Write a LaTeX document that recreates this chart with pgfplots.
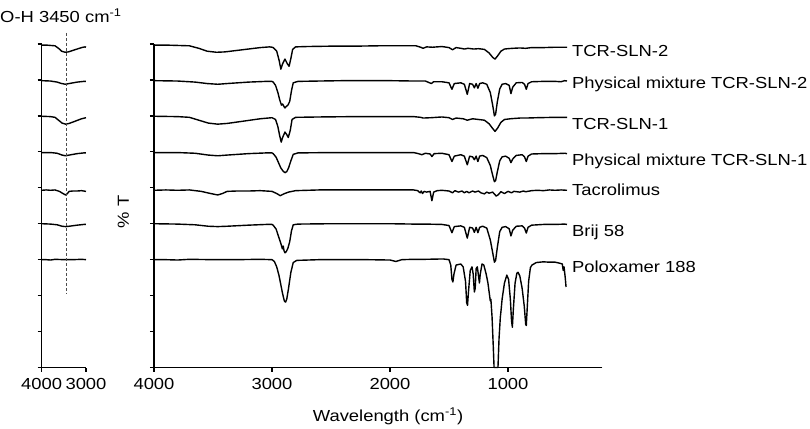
\documentclass[border=0pt]{standalone}
\usepackage{pgfplots}
\pgfplotsset{compat=1.18}
\usepackage{fontspec}
\setmainfont[FakeStretch=1.15]{Liberation Sans}
\newcommand\lab{\fontsize{16}{19}\selectfont}

% spectra: wavenumber (cm^-1) vs offset %T
\pgfplotstableread{
x y
4000 8.97
3900 8.97
3800 8.96
3700 8.95
3620 8.88
3550 8.80
3470 8.77
3400 8.78
3300 8.82
3200 8.86
3100 8.90
3020 8.92
3000 8.91
2990 8.90
2960 8.80
2940 8.55
2925 8.30
2910 8.45
2890 8.58
2870 8.45
2855 8.38
2840 8.60
2825 8.85
2800 8.92
2700 8.93
2500 8.94
2300 8.94
2100 8.95
1900 8.95
1780 8.95
1740 8.91
1720 8.88
1690 8.92
1640 8.91
1560 8.93
1500 8.90
1470 8.84
1440 8.90
1400 8.88
1370 8.86
1340 8.88
1290 8.86
1250 8.87
1200 8.85
1160 8.75
1130 8.63
1110 8.58
1090 8.66
1060 8.80
1030 8.86
1000 8.87
960 8.88
900 8.89
850 8.88
800 8.90
700 8.90
600 8.91
500 8.91
}\slntwo

\pgfplotstableread{
x y
4000 7.98
3800 7.97
3650 7.94
3550 7.90
3460 7.88
3380 7.90
3200 7.94
3050 7.96
3000 7.96
2990 7.94
2970 7.85
2950 7.65
2935 7.45
2920 7.30
2910 7.33
2900 7.27
2890 7.22
2880 7.26
2865 7.30
2850 7.40
2835 7.70
2820 7.92
2780 7.96
2600 7.97
2400 7.98
2200 7.98
2000 7.98
1800 7.97
1700 7.97
1650 7.90
1630 7.95
1560 7.95
1500 7.92
1475 7.74
1455 7.90
1400 7.92
1370 7.88
1345 7.60
1325 7.90
1300 7.88
1285 7.78
1270 7.90
1255 7.77
1240 7.90
1215 7.92
1180 7.88
1150 7.65
1130 7.30
1115 7.00
1105 7.05
1090 7.40
1070 7.75
1050 7.88
1020 7.90
990 7.85
975 7.62
960 7.80
930 7.92
880 7.93
860 7.88
845 7.74
830 7.90
800 7.95
700 7.96
600 7.96
550 7.95
520 7.98
500 7.97
}\pmtwo

\pgfplotstableread{
x y
4000 6.99
3800 6.98
3700 6.96
3620 6.88
3540 6.80
3460 6.77
3380 6.79
3250 6.85
3100 6.92
3000 6.95
2970 6.90
2950 6.70
2935 6.45
2922 6.27
2910 6.40
2890 6.55
2875 6.48
2862 6.40
2845 6.60
2830 6.90
2800 6.96
2600 6.97
2300 6.98
2000 6.98
1800 6.98
1740 6.96
1720 6.94
1650 6.95
1560 6.97
1500 6.95
1470 6.90
1440 6.94
1380 6.92
1345 6.88
1300 6.92
1250 6.90
1200 6.88
1160 6.78
1130 6.65
1110 6.57
1090 6.65
1060 6.82
1030 6.90
980 6.92
900 6.94
850 6.94
750 6.95
600 6.96
500 6.96
}\slnone

\pgfplotstableread{
x y
4000 5.98
3800 5.98
3650 5.96
3540 5.91
3460 5.89
3380 5.91
3200 5.95
3050 5.97
3000 5.97
2990 5.95
2965 5.85
2945 5.70
2925 5.55
2905 5.46
2890 5.42
2875 5.45
2860 5.55
2840 5.75
2820 5.93
2780 5.97
2500 5.98
2200 5.98
2000 5.98
1800 5.98
1760 5.95
1730 5.92
1700 5.96
1660 5.94
1645 5.87
1625 5.95
1560 5.96
1500 5.92
1475 5.73
1455 5.88
1400 5.92
1370 5.88
1345 5.64
1325 5.88
1300 5.86
1285 5.78
1270 5.88
1255 5.73
1240 5.88
1215 5.90
1180 5.84
1150 5.62
1130 5.35
1115 5.17
1105 5.20
1090 5.45
1070 5.75
1050 5.86
1020 5.88
990 5.82
975 5.70
960 5.80
930 5.90
880 5.92
860 5.86
845 5.73
830 5.88
800 5.94
700 5.95
600 5.95
520 5.96
500 5.95
}\pmone

\pgfplotstableread{
x y
4000 4.93
3900 4.94
3800 4.93
3700 4.94
3600 4.90
3520 4.84
3460 4.80
3420 4.84
3380 4.90
3300 4.91
3200 4.91
3100 4.92
3000 4.90
2960 4.84
2930 4.78
2900 4.83
2860 4.88
2800 4.92
2600 4.94
2300 4.94
2000 4.94
1800 4.94
1765 4.92
1745 4.86
1735 4.91
1725 4.84
1710 4.90
1690 4.88
1660 4.90
1645 4.64
1630 4.88
1600 4.92
1560 4.93
1500 4.91
1470 4.86
1450 4.92
1420 4.88
1390 4.91
1370 4.86
1350 4.90
1330 4.86
1300 4.91
1280 4.88
1250 4.91
1230 4.86
1200 4.83
1180 4.88
1160 4.85
1130 4.88
1100 4.77
1085 4.80
1060 4.89
1030 4.84
1000 4.90
970 4.86
950 4.90
900 4.88
870 4.91
850 4.89
800 4.92
750 4.93
700 4.92
650 4.94
600 4.93
550 4.94
500 4.93
}\tacro

\pgfplotstableread{
x y
4000 4.00
3800 3.99
3650 3.97
3540 3.93
3460 3.92
3380 3.93
3200 3.96
3050 3.98
3000 3.98
2990 3.96
2965 3.85
2945 3.65
2925 3.45
2912 3.30
2905 3.38
2898 3.25
2890 3.19
2878 3.23
2865 3.32
2850 3.50
2835 3.80
2820 3.97
2780 3.99
2500 4.00
2200 4.00
2000 4.00
1800 3.99
1700 3.99
1560 3.98
1500 3.95
1475 3.75
1455 3.92
1400 3.94
1370 3.90
1345 3.60
1325 3.90
1300 3.88
1285 3.76
1270 3.90
1255 3.75
1240 3.90
1215 3.93
1180 3.88
1150 3.55
1130 3.20
1115 2.93
1105 2.98
1090 3.35
1070 3.78
1050 3.90
1020 3.92
990 3.86
975 3.66
960 3.82
930 3.93
880 3.94
860 3.88
845 3.74
830 3.90
800 3.96
700 3.98
600 3.98
520 3.99
500 3.98
}\brij

\pgfplotstableread{
x y
4000 3.00
3900 3.00
3800 2.99
3700 3.01
3500 3.00
3300 3.00
3100 3.01
3000 3.00
2980 2.95
2960 2.80
2940 2.55
2925 2.30
2910 2.05
2895 1.85
2885 1.82
2875 1.90
2860 2.20
2840 2.65
2820 2.92
2790 2.98
2600 3.00
2400 3.00
2200 3.00
2000 2.99
1950 2.95
1900 3.00
1800 3.01
1700 3.01
1550 3.02
1500 3.00
1485 2.85
1475 2.45
1467 2.38
1458 2.60
1440 2.85
1400 2.88
1380 2.80
1360 2.40
1350 1.80
1343 1.73
1335 2.10
1320 2.70
1305 2.80
1295 2.60
1285 2.10
1278 2.20
1270 2.75
1260 2.80
1250 2.55
1242 2.35
1235 2.60
1220 2.88
1205 2.85
1185 2.60
1170 2.35
1160 2.10
1150 1.85
1145 1.90
1135 1.40
1125 0.60
1118 0.00
1100 0.00
1085 0.00
1076 0.80
1065 1.40
1060 1.55
1050 1.90
1030 2.35
1010 2.57
995 2.45
980 1.90
970 1.30
963 1.12
955 1.60
940 2.35
925 2.62
915 2.65
900 2.55
880 2.20
862 1.70
850 1.20
845 1.17
838 1.60
825 2.40
810 2.78
797 2.85
760 2.92
700 2.94
650 2.93
600 2.93
560 2.90
540 2.88
532 2.70
525 2.80
515 2.50
508 2.24
}\polox

\pgfplotsset{
  ftir/.style={
    scale only axis,
    x dir=reverse,
    axis x line*=bottom,
    axis y line*=left,
    ymin=0, ymax=9,
    ytick={0,...,9},
    yticklabels={},
    tick align=outside,
    major tick length=4pt,
    axis line style={line width=1.3pt},
    every tick/.style={black, line width=1.3pt},
    tick label style={font=\lab},
    xticklabel style={yshift=-3pt},
    /pgf/number format/assume math mode=true,
    /pgf/number format/set thousands separator={},
    clip=false,
  },
  spec/.style={black, line width=1.4pt, no markers, line join=round},
}

\begin{document}
\begin{tikzpicture}[x=1pt,y=1pt]
\path[use as bounding box] (0,0) rectangle (810,428);

% inset: O-H region
\begin{axis}[ftir,
  at={(41.7pt,60.5pt)}, anchor=south west,
  width=44.3pt, height=323.5pt,
  xmin=3000, xmax=4000,
  xtick={3000,4000},
  restrict x to domain=3000:4000,
]
\addplot[spec] table {\slntwo};
\addplot[spec] table {\pmtwo};
\addplot[spec] table {\slnone};
\addplot[spec] table {\pmone};
\addplot[spec] table {\tacro};
\addplot[spec] table {\brij};
\addplot[spec] table {\polox};
\addplot[black!70, line width=0.8pt, dash pattern=on 3pt off 2pt] coordinates {(3450,9.31) (3450,2.07)};
\end{axis}

% full spectra
\begin{axis}[ftir,
  at={(154pt,60.5pt)}, anchor=south west,
  width=448.4pt, height=323.5pt,
  xmin=200, xmax=4000,
  xtick={1000,2000,3000,4000},
]
\addplot[spec] table {\slntwo};
\addplot[spec] table {\pmtwo};
\addplot[spec] table {\slnone};
\addplot[spec] table {\pmone};
\addplot[spec] table {\tacro};
\addplot[spec] table {\brij};
\addplot[spec] table {\polox};
\node[anchor=base west, inner sep=0, font=\lab] at (axis cs:458,8.65) {TCR-SLN-2};
\node[anchor=base west, inner sep=0, font=\lab] at (axis cs:458,7.75) {Physical mixture TCR-SLN-2};
\node[anchor=base west, inner sep=0, font=\lab] at (axis cs:458,6.62) {TCR-SLN-1};
\node[anchor=base west, inner sep=0, font=\lab] at (axis cs:458,5.62) {Physical mixture TCR-SLN-1};
\node[anchor=base west, inner sep=0, font=\lab] at (axis cs:458,4.79) {Tacrolimus};
\node[anchor=base west, inner sep=0, font=\lab] at (axis cs:458,3.65) {Brij 58};
\node[anchor=base west, inner sep=0, font=\lab] at (axis cs:458,2.64) {Poloxamer 188};
\end{axis}

\node[anchor=base west, inner sep=0, font=\lab] at (0,405) {O-H 3450 cm\textsuperscript{-1}};
\node[rotate=90, inner sep=0, font=\lab] at (123.3,216.3) {\% T};
\node[anchor=base, inner sep=0, font=\lab] at (388,6.5) {Wavelength (cm\textsuperscript{-1})};
\end{tikzpicture}
\end{document}
